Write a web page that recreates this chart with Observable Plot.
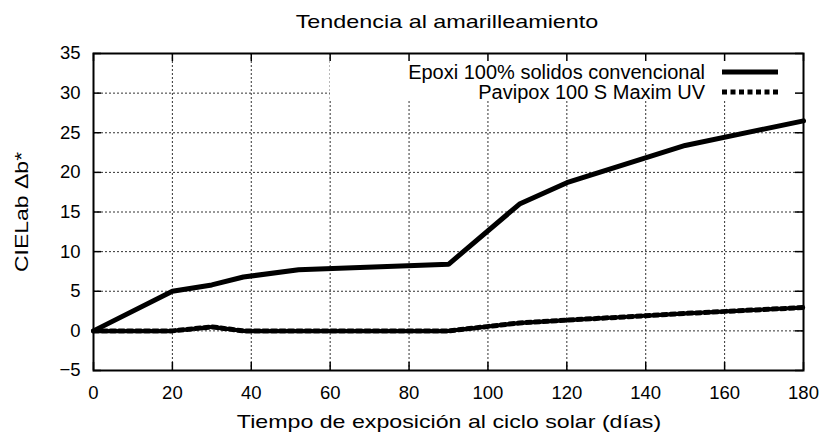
<!DOCTYPE html>
<html><head><meta charset="utf-8">
<script src="https://cdn.jsdelivr.net/npm/d3@7"></script>
<script src="https://cdn.jsdelivr.net/npm/@observablehq/plot@0.6"></script>
<style>
body{margin:0;background:#fff;}
#wrap{position:relative;width:824px;height:434px;font-family:"Liberation Sans",Arial,sans-serif;color:#000;overflow:hidden;}
#wrap svg{position:absolute;left:0;top:0;}
.lbl{position:absolute;white-space:nowrap;font-size:19px;line-height:1;}
</style></head><body><div id="wrap"></div>
<script>
// ---- data ----
const title = "Tendencia al amarilleamiento";
const xLabel = "Tiempo de exposición al ciclo solar (días)";
const yLabel = "CIELab Δb*";
const seriesNames = ["Epoxi 100% solidos convencional", "Pavipox 100 S Maxim UV"];
const days = [0, 20, 30, 38, 52, 90, 108, 120, 150, 180];
const epoxi = [0, 5.0, 5.8, 6.8, 7.7, 8.4, 16.0, 18.7, 23.4, 26.5];
const pavipox = [0, 0, 0.5, 0, 0, 0, 1.0, 1.35, 2.2, 2.95];
const xTicks = [0, 20, 40, 60, 80, 100, 120, 140, 160, 180];
const yTicks = [-5, 0, 5, 10, 15, 20, 25, 30, 35];

// ---- layout ----
const W = 824, H = 434, mL = 93, mR = 21, mT = 53, mB = 64;
const pw = W - mL - mR, ph = H - mT - mB;

const rowsA = days.map((d, i) => ({d, v: epoxi[i]}));
const rowsB = days.map((d, i) => ({d, v: pavipox[i]}));

function legendBox(index, scales, values, dims) {
  const g = d3.create("svg:g");
  const right = dims.width - dims.marginRight - 2;
  g.append("rect")
    .attr("x", right - 471).attr("y", dims.marginTop + 1)
    .attr("width", 471).attr("height", 47)
    .attr("fill", "#fff");
  return g.node();
}

function legendItems(index, scales, values, dims) {
  const g = d3.create("svg:g");
  const right = dims.width - dims.marginRight;
  const styles = [null, "5,3.5"];
  seriesNames.forEach((name, i) => {
    const y = dims.marginTop + 19 + i * 20;
    g.append("text")
      .attr("x", right - 98).attr("y", y)
      .attr("text-anchor", "end").attr("dy", "0.36em")
      .attr("font-size", 20).attr("fill", "#000")
      .text(name);
    g.append("line")
      .attr("x1", right - 81).attr("x2", right - 25)
      .attr("y1", y).attr("y2", y)
      .attr("stroke", "#000").attr("stroke-width", 5)
      .attr("stroke-dasharray", styles[i]);
  });
  return g.node();
}

const chart = Plot.plot({
  width: W, height: H,
  marginLeft: mL, marginRight: mR, marginTop: mT, marginBottom: mB,
  x: {domain: [0, 180]},
  y: {domain: [-5, 35]},
  style: {fontFamily: "Liberation Sans, Arial, sans-serif", fontSize: "18.5px", color: "#000", background: "transparent", overflow: "visible"},
  marks: [
    Plot.gridX(xTicks, {stroke: "#333", strokeOpacity: 1, strokeWidth: 1, strokeDasharray: "2,2"}),
    Plot.gridY(yTicks, {stroke: "#333", strokeOpacity: 1, strokeWidth: 1, strokeDasharray: "2,2"}),
    legendBox,
    Plot.ruleX(xTicks, {x: d => d, insetTop: ph - 8, stroke: "#000", strokeWidth: 1.5}),
    Plot.ruleX(xTicks, {x: d => d, insetBottom: ph - 8, stroke: "#000", strokeWidth: 1.5}),
    Plot.ruleY(yTicks, {y: d => d, insetRight: pw - 8, stroke: "#000", strokeWidth: 1.5}),
    Plot.ruleY(yTicks, {y: d => d, insetLeft: pw - 8, stroke: "#000", strokeWidth: 1.5}),
    Plot.frame({stroke: "#000", strokeWidth: 2}),
    Plot.axisX(xTicks, {tickSize: 0, tickPadding: 15, label: null}),
    Plot.axisY(yTicks, {tickSize: 0, tickPadding: 13, label: null}),
    Plot.line(rowsA, {x: "d", y: "v", stroke: "#000", strokeWidth: 5, strokeLinejoin: "miter"}),
    Plot.line(rowsB, {x: "d", y: "v", stroke: "#000", strokeWidth: 5, strokeDasharray: "5,3.5", strokeLinejoin: "miter"}),
    legendItems
  ]
});

const wrap = document.getElementById("wrap");
wrap.appendChild(chart);

function addLabel(text, css) {
  const d = document.createElement("div");
  d.className = "lbl";
  d.textContent = text;
  Object.assign(d.style, css);
  wrap.appendChild(d);
}
addLabel(title, {left: "447px", top: "12px", transform: "translate(-50%,0) scaleX(1.23)"});
addLabel(xLabel, {left: "449px", top: "412px", transform: "translate(-50%,0) scaleX(1.22)"});
addLabel(yLabel, {left: "21px", top: "212px", transform: "translate(-50%,-50%) rotate(-90deg) scaleX(1.21)"});
</script>
</body></html>
